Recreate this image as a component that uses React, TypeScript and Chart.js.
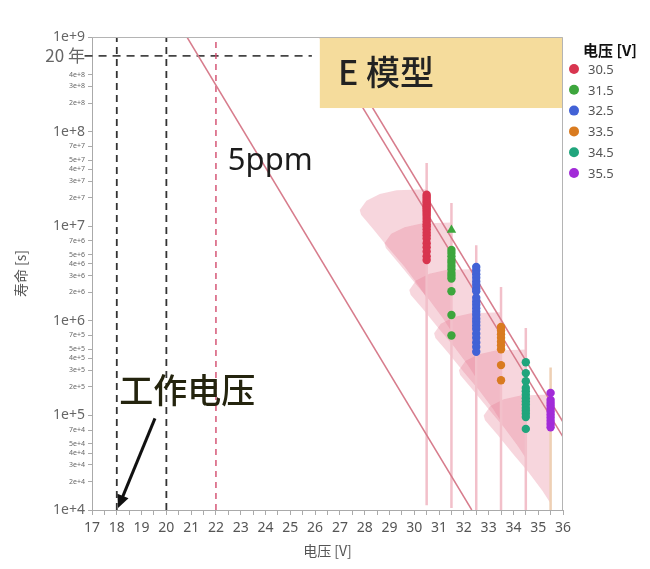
import React, { useEffect, useRef } from 'react';
import { Chart, registerables } from 'chart.js';

Chart.register(...registerables);

const FONT = '"Noto Sans", "Noto Sans CJK SC", sans-serif';
const CJK = '"Noto Sans CJK SC", "Noto Sans", sans-serif';

// ---- series ----
const VOLTAGES = [30.5, 31.5, 32.5, 33.5, 34.5, 35.5];
const SERIES_LABELS = ['30.5', '31.5', '32.5', '33.5', '34.5', '35.5'];
const COLORS = ['#d8354f', '#3da63d', '#4262d6', '#d97b20', '#20a57c', '#a22bd8'];

const LIFE_30_5 = [2.15e7, 2.05e7, 1.95e7, 1.85e7, 1.78e7, 1.7e7, 1.62e7, 1.55e7, 1.48e7, 1.42e7, 1.35e7, 1.28e7, 1.2e7, 1.12e7, 1.05e7, 1.0e7, 9.3e6, 8.6e6, 8.0e6, 7.4e6, 6.6e6, 6.0e6, 5.4e6, 4.8e6, 4.4e6];
const LIFE_31_5 = [5.6e6, 5.2e6, 4.8e6, 4.4e6, 4.1e6, 3.8e6, 3.5e6, 3.2e6, 3.0e6, 2.8e6, 2.05e6, 1.15e6, 7.0e5];
const LIFE_31_5_TRIANGLE = [9.1e6];
const LIFE_32_5 = [3.7e6, 3.4e6, 3.1e6, 2.85e6, 2.6e6, 2.4e6, 2.2e6, 2.05e6, 1.75e6, 1.6e6, 1.48e6, 1.36e6, 1.25e6, 1.15e6, 1.05e6, 9.7e5, 8.9e5, 8.2e5, 7.3e5, 6.6e5, 5.9e5, 5.3e5, 4.7e5];
const LIFE_33_5 = [8.6e5, 7.9e5, 7.2e5, 6.6e5, 6.0e5, 5.5e5, 5.0e5, 3.4e5, 2.35e5];
const LIFE_34_5 = [3.65e5, 2.8e5, 2.3e5, 1.95e5, 1.8e5, 1.65e5, 1.52e5, 1.4e5, 1.3e5, 1.2e5, 1.12e5, 1.04e5, 9.6e4, 7.2e4];
const LIFE_35_5 = [1.73e5, 1.46e5, 1.36e5, 1.27e5, 1.18e5, 1.1e5, 1.02e5, 9.5e4, 8.8e4, 8.1e4, 7.5e4];
const LIFE_SERIES = [LIFE_30_5, LIFE_31_5, LIFE_32_5, LIFE_33_5, LIFE_34_5, LIFE_35_5];

// distribution guide lines at each stress voltage
const VLINE_TOP = [4.66e7, 1.76e7, 6.3e6, 2.27e6, 8.4e5, 3.2e5];
const VLINE_BOTTOM = [1.12e4, 1.05e4, 1e4, 1e4, 1e4, 1e4];
const VLINE_COLORS = ['#f2c0ca', '#f2c0ca', '#f2c0ca', '#f2c0ca', '#f2c0ca', '#eed0b4'];

// density shape: apex life per voltage, outline offsets (decades) and relative widths
const APEX_LIFE = [1.48e7, 6.6e6, 2.12e6, 7.4e5, 3.0e5, 1.0e5];
const SHAPE_DY = [0.22, 0.21, 0.17, 0.1, 0, -0.05, -0.2, -0.4, -0.6, -0.8, -0.93];
const SHAPE_W = [0, 0.45, 0.7, 0.9, 1, 0.98, 0.8, 0.57, 0.33, 0.12, 0];
const SHAPE_MAX_WIDTH_V = 2.7;

// model lines
const LINE_5PPM_V = [20.83, 32.32];
const LINE_5PPM_LIFE = [1e9, 1e4];
const LINE_A_V = [26.19, 36];
const LINE_A_LIFE = [1e9, 5.92e4];
const LINE_B_V = [26.59, 36];
const LINE_B_LIFE = [1e9, 8.51e4];

// reference lines
const REF_BLACK_V = [18, 20];
const REF_RED_V = [22];
const TWENTY_YEARS = 6.3072e8;
const TWENTY_YEARS_SPAN_V = [16.7, 25.87];

// axis ticks
const Y_TICK_VALUES = [1e4, 2e4, 3e4, 4e4, 5e4, 7e4, 1e5, 2e5, 3e5, 4e5, 5e5, 7e5, 1e6, 2e6, 3e6, 4e6, 5e6, 7e6, 1e7, 2e7, 3e7, 4e7, 5e7, 7e7, 1e8, 2e8, 3e8, 4e8, TWENTY_YEARS, 1e9];
const Y_TICK_LABELS = ['1e+4', '2e+4', '3e+4', '4e+4', '5e+4', '7e+4', '1e+5', '2e+5', '3e+5', '4e+5', '5e+5', '7e+5', '1e+6', '2e+6', '3e+6', '4e+6', '5e+6', '7e+6', '1e+7', '2e+7', '3e+7', '4e+7', '5e+7', '7e+7', '1e+8', '2e+8', '3e+8', '4e+8', '20 年', '1e+9'];
const Y_MAJOR = [1e4, 1e5, 1e6, 1e7, 1e8, 1e9];

const ANNOT_BOX_V = [26.19, 36];
const ANNOT_BOX_LIFE = [1e9, 1.775e8];

export default function App() {
  const ref = useRef<HTMLCanvasElement>(null);

  useEffect(() => {
    const canvas = ref.current!;
    const pts = (life: number[], v: number) => life.map((y) => ({ x: v, y }));
    const seg = (xs: number[], ys: number[]) => xs.map((x, i) => ({ x, y: ys[i] }));

    const datasets: any[] = [];
    LIFE_SERIES.forEach((life, i) => {
      datasets.push({
        type: 'scatter', label: SERIES_LABELS[i], data: pts(life, VOLTAGES[i]),
        backgroundColor: COLORS[i], borderColor: COLORS[i], borderWidth: 0,
        pointRadius: 4.2, order: 0,
      });
    });
    datasets.push({
      type: 'scatter', label: '31.5 tri', data: pts(LIFE_31_5_TRIANGLE, VOLTAGES[1]),
      backgroundColor: COLORS[1], borderColor: COLORS[1], borderWidth: 0,
      pointStyle: 'triangle', pointRadius: 5.5, order: 0,
    });
    const lineDs = (data: any[], color: string, width: number, dash: number[] = [], order = 1, clip: any = undefined) => ({
      type: 'line', data, borderColor: color, borderWidth: width, borderDash: dash,
      pointRadius: 0, fill: false, tension: 0, order, ...(clip !== undefined ? { clip } : {}),
    });
    VOLTAGES.forEach((v, i) => {
      datasets.push(lineDs([{ x: v, y: VLINE_TOP[i] }, { x: v, y: VLINE_BOTTOM[i] }], VLINE_COLORS[i], 2.5, [], 3));
    });
    datasets.push(lineDs(seg(LINE_5PPM_V, LINE_5PPM_LIFE), '#d77c8c', 1.5));
    datasets.push(lineDs(seg(LINE_A_V, LINE_A_LIFE), '#d77c8c', 1.5));
    datasets.push(lineDs(seg(LINE_B_V, LINE_B_LIFE), '#d77c8c', 1.5));
    REF_BLACK_V.forEach((v) => {
      datasets.push(lineDs([{ x: v, y: 1e4 }, { x: v, y: 1e9 }], '#333333', 1.8, [7, 5], 2));
    });
    REF_RED_V.forEach((v) => {
      datasets.push(lineDs([{ x: v, y: 1e4 }, { x: v, y: 1e9 }], '#d24a6c', 1.4, [6, 5], 2));
    });
    datasets.push(lineDs(TWENTY_YEARS_SPAN_V.map((x) => ({ x, y: TWENTY_YEARS })), '#444444', 1.8, [8, 6], 2, false));

    const overlay = {
      id: 'overlay',
      beforeDatasetsDraw(chart: any) {
        const { ctx, chartArea: a } = chart;
        const xs = chart.scales.x, ys = chart.scales.y;
        ctx.save();
        ctx.beginPath();
        ctx.rect(a.left, a.top, a.right - a.left, a.bottom - a.top);
        ctx.clip();
        ctx.fillStyle = 'rgba(228,118,144,0.3)';
        VOLTAGES.forEach((v, i) => {
          ctx.beginPath();
          SHAPE_DY.forEach((dy, k) => {
            const px = xs.getPixelForValue(v - SHAPE_W[k] * SHAPE_MAX_WIDTH_V);
            const py = ys.getPixelForValue(APEX_LIFE[i] * Math.pow(10, dy));
            if (k === 0) ctx.moveTo(px, py); else ctx.lineTo(px, py);
          });
          ctx.closePath();
          ctx.fill();
        });
        ctx.restore();
      },
      afterDatasetsDraw(chart: any) {
        const { ctx, chartArea: a } = chart;
        const xs = chart.scales.x, ys = chart.scales.y;
        ctx.save();
        // annotation box
        const bx0 = xs.getPixelForValue(ANNOT_BOX_V[0]);
        const bx1 = xs.getPixelForValue(ANNOT_BOX_V[1]);
        const by0 = ys.getPixelForValue(ANNOT_BOX_LIFE[0]);
        const by1 = ys.getPixelForValue(ANNOT_BOX_LIFE[1]);
        ctx.fillStyle = '#f5dc9c';
        ctx.fillRect(bx0, by0, bx1 - bx0, by1 - by0);
        ctx.fillStyle = '#222';
        ctx.textBaseline = 'middle';
        ctx.textAlign = 'left';
        ctx.font = `500 34px ${CJK}`;
        ctx.fillText('E 模型', xs.getPixelForValue(26.92), ys.getPixelForValue(4.27e8));
        ctx.font = `31px ${FONT}`;
        ctx.textBaseline = 'alphabetic';
        ctx.fillStyle = '#1c1c1c';
        ctx.fillText('5ppm', xs.getPixelForValue(22.48), ys.getPixelForValue(3.93e7));
        ctx.textBaseline = 'middle';
        ctx.font = `500 34px ${CJK}`;
        ctx.fillStyle = '#24240e';
        ctx.fillText('工作电压', xs.getPixelForValue(18.1), ys.getPixelForValue(1.86e5));
        // arrow
        const x0 = xs.getPixelForValue(19.54), y0 = ys.getPixelForValue(9.3e4);
        const x1 = xs.getPixelForValue(18.05), y1 = ys.getPixelForValue(1.05e4);
        const ang = Math.atan2(y1 - y0, x1 - x0);
        ctx.strokeStyle = '#111';
        ctx.lineWidth = 3;
        ctx.beginPath();
        ctx.moveTo(x0, y0);
        ctx.lineTo(x1 - 8 * Math.cos(ang), y1 - 8 * Math.sin(ang));
        ctx.stroke();
        ctx.fillStyle = '#111';
        ctx.beginPath();
        ctx.moveTo(x1, y1);
        ctx.lineTo(x1 - 13 * Math.cos(ang) + 6 * Math.sin(ang), y1 - 13 * Math.sin(ang) - 6 * Math.cos(ang));
        ctx.lineTo(x1 - 13 * Math.cos(ang) - 6 * Math.sin(ang), y1 - 13 * Math.sin(ang) + 6 * Math.cos(ang));
        ctx.closePath();
        ctx.fill();
        // frame
        ctx.strokeStyle = '#b4b4b4';
        ctx.lineWidth = 1;
        ctx.beginPath();
        ctx.moveTo(a.left, a.top + 0.5);
        ctx.lineTo(a.right - 0.5, a.top + 0.5);
        ctx.lineTo(a.right - 0.5, a.bottom);
        ctx.stroke();
        ctx.restore();
      },
      afterDraw(chart: any) {
        const { ctx } = chart;
        ctx.save();
        ctx.textAlign = 'left';
        ctx.textBaseline = 'middle';
        ctx.fillStyle = '#111';
        ctx.font = `bold 15px ${CJK}`;
        ctx.fillText('电压 [V]', 583, 50);
        ctx.font = `13px ${FONT}`;
        SERIES_LABELS.forEach((lab, i) => {
          const y = 69 + i * 20.8;
          ctx.fillStyle = COLORS[i];
          ctx.beginPath();
          ctx.arc(574, y, 5, 0, Math.PI * 2);
          ctx.fill();
          ctx.fillStyle = '#555';
          ctx.fillText(lab, 588, y + 1);
        });
        ctx.restore();
      },
    };

    const chart = new Chart(canvas, {
      type: 'scatter',
      data: { datasets },
      options: {
        animation: false,
        responsive: false,
        devicePixelRatio: 1,
        layout: { padding: { left: 0, top: 37, right: 87, bottom: 0 } },
        plugins: { legend: { display: false }, tooltip: { enabled: false } },
        scales: {
          x: {
            type: 'linear', min: 17, max: 36,
            ticks: {
              stepSize: 0.5, autoSkip: false, maxRotation: 0, padding: 5,
              color: '#555', font: { size: 14, family: FONT },
              callback: (v: any) => (Number.isInteger(v) ? String(v) : ''),
            },
            grid: { drawOnChartArea: false, drawTicks: true, tickLength: 5, color: '#aaaaaa' },
            border: { color: '#aaaaaa' },
            title: { display: true, text: '电压 [V]', color: '#555', font: { size: 14, family: CJK }, padding: { top: 0, bottom: 10 } },
            afterFit: (s: any) => { s.height = 59; s.paddingLeft = 0; s.paddingRight = 0; },
          },
          y: {
            type: 'logarithmic', min: 1e4, max: 1e9,
            afterBuildTicks: (s: any) => {
              s.ticks = Y_TICK_VALUES.map((v) => ({ value: v, major: Y_MAJOR.includes(v) }));
            },
            ticks: {
              autoSkip: false, padding: 3, color: '#666',
              callback: (v: any) => {
                const i = Y_TICK_VALUES.indexOf(v);
                return i >= 0 ? Y_TICK_LABELS[i] : '';
              },
              font: (c: any) => {
                const v = c.tick ? c.tick.value : 0;
                if (v === TWENTY_YEARS) return { size: 17, family: CJK };
                if (Y_MAJOR.includes(v)) return { size: 14, family: FONT };
                return { size: 7, family: FONT };
              },
            },
            grid: { drawOnChartArea: false, drawTicks: true, tickLength: 4, color: '#aaaaaa' },
            border: { color: '#aaaaaa' },
            title: { display: true, text: '寿命 [s]', color: '#555', font: { size: 14, family: CJK }, padding: { top: 12, bottom: 0 } },
            afterFit: (s: any) => { s.width = 92; s.paddingTop = 0; s.paddingBottom = 0; },
          },
        },
      } as any,
      plugins: [overlay],
    });
    return () => chart.destroy();
  }, []);

  return (
    <div style={{ position: 'fixed', left: 0, top: 0, width: 650, height: 569, background: '#fff' }}>
      <canvas ref={ref} width={650} height={569} style={{ width: 650, height: 569, display: 'block' }} />
    </div>
  );
}
